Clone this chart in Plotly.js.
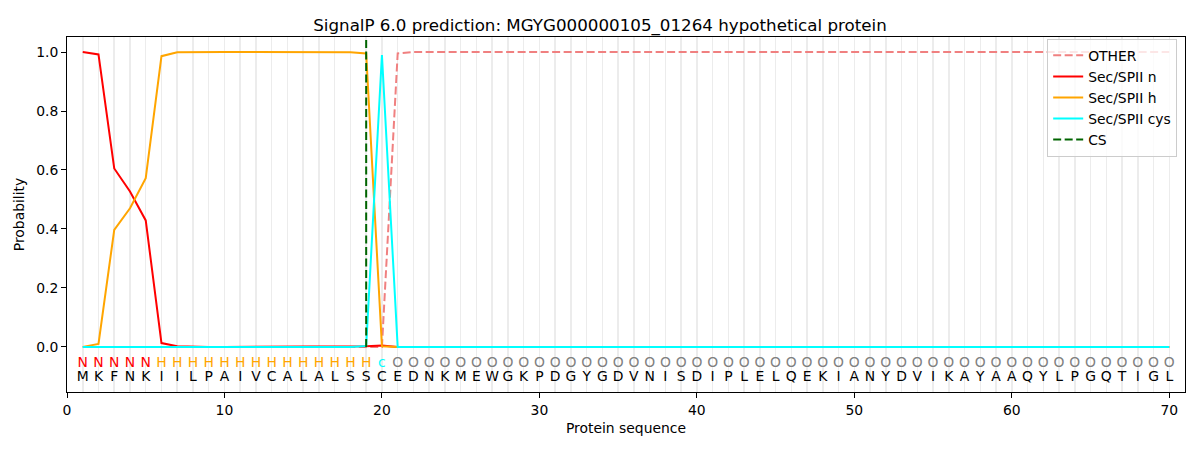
<!DOCTYPE html>
<html><head><meta charset="utf-8">
<script src="https://cdn.plot.ly/plotly-3.0.1.min.js"></script>
<style>html,body{margin:0;padding:0;background:#fff}#chart{width:1200px;height:450px}</style>
</head><body><div id="chart"></div>
<script>
const sequence = "MKFNKIILPAIVCALALSSCEDNKMEWGKPDGYGDVNISDIPLELQEKIANYDVIKAYAAQYLPGQTIGL".split("");
const regionLabels = ("NNNNN" + "HHHHHHHHHHHHHH" + "c" + "OOOOOOOOOOOOOOOOOOOOOOOOOOOOOOOOOOOOOOOOOOOOOOOOOO").split("");
const positions = sequence.map((_, i) => i + 1);
const other = [0,0,0,0,0,0,0,0,0,0, 0,0,0,0,0,0,0,0,0,0,
  0.995,1,1,1,1,1,1,1,1,1, 1,1,1,1,1,1,1,1,1,1, 1,1,1,1,1,1,1,1,1,1,
  1,1,1,1,1,1,1,1,1,1, 1,1,1,1,1,1,1,1,1,1];
const secN = [1.0,0.992,0.605,0.527,0.429,0.013,0.002,0,0,0, 0,0,0,0,0,0,0,0,0.002,0.005,
  0,0,0,0,0,0,0,0,0,0, 0,0,0,0,0,0,0,0,0,0, 0,0,0,0,0,0,0,0,0,0,
  0,0,0,0,0,0,0,0,0,0, 0,0,0,0,0,0,0,0,0,0];
const secH = [0.0,0.01,0.397,0.47,0.572,0.986,0.999,1,1,1, 1,1,1,1,1,1,1,0.999,0.995,0.002,
  0,0,0,0,0,0,0,0,0,0, 0,0,0,0,0,0,0,0,0,0, 0,0,0,0,0,0,0,0,0,0,
  0,0,0,0,0,0,0,0,0,0, 0,0,0,0,0,0,0,0,0,0];
const secCys = [0,0,0,0,0,0,0,0,0,0, 0,0,0,0,0,0,0,0,0.003,0.99,
  0,0,0,0,0,0,0,0,0,0, 0,0,0,0,0,0,0,0,0,0, 0,0,0,0,0,0,0,0,0,0,
  0,0,0,0,0,0,0,0,0,0, 0,0,0,0,0,0,0,0,0,0];
const csPosition = 19;
const xTicks = [0,10,20,30,40,50,60,70];
const yTicks = [0.0,0.2,0.4,0.6,0.8,1.0];
const yRange = [-0.153, 1.051];
const labelY = -0.056, seqY = -0.105;

const labelColors = {N:'#ff0000', H:'#ffa500', c:'#00ffff', O:'#808080'};
const F = 'DejaVu Sans, sans-serif';
const GRID = '#ececec';

const traces = [
  {x: positions, y: other, name: 'OTHER', mode: 'lines', line: {color: '#f08080', width: 2, dash: '8px,3.5px'}},
  {x: positions, y: secN, name: 'Sec/SPII n', mode: 'lines', line: {color: '#ff0000', width: 2}},
  {x: positions, y: secH, name: 'Sec/SPII h', mode: 'lines', line: {color: '#ffa500', width: 2}},
  {x: positions, y: secCys, name: 'Sec/SPII cys', mode: 'lines', line: {color: '#00ffff', width: 2}},
  {x: [csPosition, csPosition], y: [0, yRange[1]], name: 'CS', mode: 'lines', line: {color: '#006400', width: 2, dash: '8px,3.5px'}},
  {x: positions, y: positions.map(() => labelY), mode: 'text', text: regionLabels, showlegend: false, hoverinfo: 'skip',
   textfont: {family: F, size: 13.9, color: regionLabels.map(l => labelColors[l])}},
  {x: positions, y: positions.map(() => seqY), mode: 'text', text: sequence, showlegend: false, hoverinfo: 'skip',
   textfont: {family: F, size: 13.9, color: '#000'}}
];

const layout = {
  width: 1200, height: 450,
  margin: {l: 67, r: 15, t: 37, b: 58},
  paper_bgcolor: '#fff', plot_bgcolor: '#fff',
  font: {family: F, size: 13.9, color: '#000'},
  title: {text: 'SignalP 6.0 prediction: MGYG000000105_01264 hypothetical protein', font: {family: F, size: 16.7, color: '#000'}, x: 0.5, xanchor: 'center', y: 0.945, yanchor: 'middle'},
  xaxis: {range: [0, 71], tickvals: xTicks, ticktext: xTicks.map(String), ticks: 'outside', ticklen: 5, tickcolor: '#000',
    showline: true, mirror: true, linecolor: '#000', linewidth: 1, zeroline: false,
    showgrid: true, gridcolor: GRID, gridwidth: 1.5,
    minor: {dtick: 1, tick0: 0, showgrid: true, gridcolor: GRID, gridwidth: 1.5},
    title: {text: 'Protein sequence', font: {family: F, size: 13.9}, standoff: 6}},
  yaxis: {range: yRange, tickvals: yTicks, ticktext: yTicks.map(v => v.toFixed(1)), ticks: 'outside', ticklen: 5, tickcolor: '#000',
    showline: true, mirror: true, linecolor: '#000', linewidth: 1, zeroline: false, showgrid: false,
    title: {text: 'Probability', font: {family: F, size: 13.9}, standoff: 8}},
  legend: {x: 0.993, y: 0.995, xanchor: 'right', yanchor: 'top', bgcolor: 'rgba(255,255,255,0.8)', bordercolor: '#cccccc', borderwidth: 1,
    font: {family: F, size: 13.9}, tracegroupgap: 0},
  showlegend: true
};
Plotly.newPlot('chart', traces, layout, {displayModeBar: false, staticPlot: true});
</script></body></html>
